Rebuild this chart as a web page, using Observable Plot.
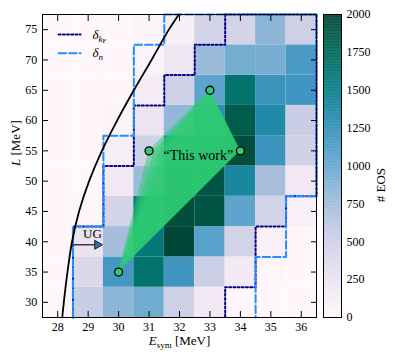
<!DOCTYPE html>
<html><head><meta charset="utf-8">
<script src="https://cdn.jsdelivr.net/npm/d3@7"></script>
<script src="https://cdn.jsdelivr.net/npm/@observablehq/plot@0.6"></script>
<style>
body{margin:0;background:#fff;}
#wrap{position:relative;width:395px;height:357px;}
#wrap svg{position:absolute;left:0;top:0;}
</style></head><body><div id="wrap"></div>
<script>
// ---------- data ----------
const esym = [28, 29, 30, 31, 32, 33, 34, 35, 36];
const lvals = [30, 35, 40, 45, 50, 55, 60, 65, 70, 75];
// number of EOS per (L row, E_sym column)
const countsL30 = [0, 540, 850, 970, 500, 170, 10, 0, 0];
const countsL35 = [0, 400, 1170, 1650, 1200, 520, 150, 20, 0];
const countsL40 = [0, 250, 740, 1600, 2000, 1080, 470, 80, 10];
const countsL45 = [0, 10, 450, 1550, 1950, 1900, 1050, 450, 80];
const countsL50 = [0, 0, 180, 780, 1900, 1900, 1400, 720, 180];
const countsL55 = [0, 0, 100, 480, 1500, 1700, 1950, 1230, 480];
const countsL60 = [0, 0, 30, 230, 820, 1300, 1850, 1350, 530];
const countsL65 = [0, 0, 0, 130, 500, 1050, 1650, 1220, 1200];
const countsL70 = [0, 0, 0, 50, 200, 780, 950, 930, 1150];
const countsL75 = [0, 0, 0, 30, 100, 450, 450, 850, 500];
const countRows = [countsL30, countsL35, countsL40, countsL45, countsL50, countsL55, countsL60, countsL65, countsL70, countsL75];

const xTicks = [28, 29, 30, 31, 32, 33, 34, 35, 36];
const yTicks = [30, 35, 40, 45, 50, 55, 60, 65, 70, 75];
const cbTicks = [0, 250, 500, 750, 1000, 1250, 1500, 1750, 2000];

// "This work" points (E_sym, L)
const twE = [30, 34, 33, 31];
const twL = [35, 55, 65, 55];
// region spanned by them: left / right edge at each L
const twRegionL = [35, 55, 65];
const twRegionLeftE = [30, 31, 33];
const twRegionRightE = [30, 34, 33];
// soft left edge: layers drawn with the left edge pulled inwards by these fractions
const twFade = [0, 0.06, 0.12, 0.18];

// unitary gas (UG) bound
const ugE = [28.15, 28.2, 28.32, 28.47, 28.7, 29.03, 29.45, 29.95, 30.5, 31.08, 31.65, 31.98];
const ugL = [27.5, 30, 35, 40, 45, 50, 55, 60, 65, 70, 75, 77.5];

// contours
const dkfLeftE = [33.5, 33.5, 32.5, 32.5, 31.5, 31.5, 30.5, 30.5, 29.5, 29.5, 28.5, 28.5];
const dkfLeftL = [77.5, 72.5, 72.5, 67.5, 67.5, 62.5, 62.5, 52.5, 52.5, 42.5, 42.5, 27.5];
const dkfRightE = [33.5, 36.5, 36.5, 35.5, 35.5, 34.5, 34.5, 33.5, 33.5];
const dkfRightL = [77.5, 77.5, 47.5, 47.5, 42.5, 42.5, 32.5, 32.5, 27.5];
const dnLeftE = [31.5, 31.5, 30.5, 30.5, 29.5, 29.5, 28.5, 28.5];
const dnLeftL = [77.5, 72.5, 72.5, 57.5, 57.5, 42.5, 42.5, 27.5];
const dnRightE = [31.5, 36.5, 36.5, 35.5, 35.5, 34.5, 34.5];
const dnRightL = [77.5, 77.5, 47.5, 47.5, 37.5, 37.5, 27.5];

// annotations
const legendLabels = ["δ_kF", "δ_n"];
const legendLineE = [28.03, 28.75];
const legendRowL = [74.2, 71.1];
const legendTextE = 29.14;
const thisWorkLabel = {E: 32.62, L: 54.2, text: "“This work”"};
const ugLabel = {E: 29.14, L: 41.3, text: "UG"};
const ugArrow = {E1: 28.5, E2: 29.3, L: 39.5};
const xLabel = "E_sym [MeV]";
const yLabel = "L [MeV]";
const cbLabel = "# EOS";

// ---------- build tables ----------
const cells = [];
lvals.forEach((L, i) => esym.forEach((E, j) => cells.push({E, L, n: countRows[i][j]})));
const tw = twE.map((E, i) => ({E, L: twL[i]}));
const twLayers = twFade.map(f => twRegionL.map((L, i) => ({
  L, a: twRegionLeftE[i] + f * (twRegionRightE[i] - twRegionLeftE[i]), b: twRegionRightE[i]
})));
const ug = ugE.map((E, i) => ({E, L: ugL[i]}));
const toPts = (es, ls) => es.map((E, i) => ({E, L: ls[i]}));
const serif = "'Liberation Serif', 'DejaVu Serif', serif";
const green = "#2ecc71";
const dotted = {stroke: "#00008b", strokeWidth: 2, strokeDasharray: "2,2.2"};
const dashed = {stroke: "#1e90ff", strokeWidth: 2, strokeDasharray: "7.5,3"};
const colorOpt = {type: "linear", scheme: "PuBuGn", domain: [0, 2000]};

const main = Plot.plot({
  width: 395, height: 357,
  marginLeft: 42, marginRight: 79, marginTop: 14, marginBottom: 40,
  x: {domain: [27.5, 36.5]},
  y: {domain: [27.5, 77.5]},
  color: colorOpt,
  style: {fontFamily: serif, fontSize: "12px", background: "transparent", color: "black"},
  marks: [
    Plot.rect(cells, {x1: d => d.E - 0.5, x2: d => d.E + 0.5, y1: d => d.L - 2.5, y2: d => d.L + 2.5, fill: "n"}),
    ...twLayers.map(layer => Plot.areaX(layer, {y: "L", x1: "a", x2: "b", fill: green, fillOpacity: 0.5})),
    Plot.line(toPts(dkfLeftE, dkfLeftL), {x: "E", y: "L", ...dotted}),
    Plot.line(toPts(dkfRightE, dkfRightL), {x: "E", y: "L", ...dotted}),
    Plot.line(toPts(dnLeftE, dnLeftL), {x: "E", y: "L", ...dashed}),
    Plot.line(toPts(dnRightE, dnRightL), {x: "E", y: "L", ...dashed}),
    Plot.frame({stroke: "black", strokeWidth: 1}),
    Plot.line(ug, {x: "E", y: "L", curve: "catmull-rom", stroke: "black", strokeWidth: 1.8}),
    Plot.link([ugArrow], {x1: "E1", x2: "E2", y1: "L", y2: "L", stroke: "#222", strokeWidth: 1.3}),
    Plot.dot([ugArrow], {x: "E2", y: "L", symbol: "triangle", rotate: 90, r: 3.3, fill: "#1f77b4", stroke: "#222", strokeWidth: 1}),
    Plot.text([ugLabel], {x: "E", y: "L", text: "text", fontSize: 13, fill: "black"}),
    Plot.dot(tw, {x: "E", y: "L", r: 4, fill: green, stroke: "black", strokeWidth: 1.3}),
    Plot.text([thisWorkLabel], {x: "E", y: "L", text: "text", fontSize: 14, fill: "black"}),
    // legend
    Plot.line(legendLineE.map(E => ({E, L: legendRowL[0]})), {x: "E", y: "L", ...dotted}),
    Plot.line(legendLineE.map(E => ({E, L: legendRowL[1]})), {x: "E", y: "L", ...dashed}),
    Plot.text(legendLabels.map((t, i) => ({t, L: legendRowL[i]})), {x: () => legendTextE, y: "L", text: "t", textAnchor: "start", fontSize: 13, fill: "black"}),
    // axes
    Plot.axisX({anchor: "bottom", ticks: xTicks, tickSize: -6, tickPadding: 11, label: null, fontSize: 12}),
    Plot.axisX({anchor: "top", ticks: xTicks, tickSize: -6, tickFormat: () => "", label: null}),
    Plot.axisY({anchor: "left", ticks: yTicks, tickSize: -6, tickPadding: 11.3, label: null, fontSize: 12}),
    Plot.axisY({anchor: "right", ticks: yTicks, tickSize: -6, tickFormat: () => "", label: null}),
    Plot.text([xLabel], {frameAnchor: "bottom", dy: 27, text: d => d, fontSize: 13, fill: "black"}),
    Plot.text([yLabel], {frameAnchor: "left", dx: -27, rotate: -90, text: d => d, fontSize: 13, fill: "black"})
  ]
});

const cbData = d3.range(0, 2000, 4);
const cb = Plot.plot({
  width: 395, height: 357,
  marginLeft: 323, marginRight: 54, marginTop: 14, marginBottom: 40,
  y: {domain: [0, 2000]},
  color: colorOpt,
  style: {fontFamily: serif, fontSize: "12px", background: "transparent", color: "black"},
  marks: [
    Plot.rect(cbData, {y1: d => d, y2: d => Math.min(2000, d + 6), fill: d => d + 2}),
    Plot.frame({stroke: "black", strokeWidth: 1}),
    Plot.axisY({anchor: "right", ticks: cbTicks, tickSize: 0, tickPadding: 5, tickFormat: d => String(d), label: null, fontSize: 12}),
    Plot.text([cbLabel], {frameAnchor: "right", dx: 39, dy: 2, rotate: -90, text: d => d, fontSize: 13, fill: "black"})
  ]
});

const wrap = document.getElementById("wrap");
wrap.appendChild(main);
wrap.appendChild(cb);

// rich text (italic / subscripts)
function rich(svg, key, parts) {
  d3.select(svg).selectAll("text").filter(function () { return this.textContent === key; }).each(function () {
    const t = d3.select(this); t.text(null);
    parts.forEach(p => {
      const s = t.append("tspan").text(p.t);
      if (p.i) s.attr("font-style", "italic");
      if (p.fs) s.attr("font-size", p.fs);
      if (p.dy) s.attr("dy", p.dy);
    });
  });
}
rich(main, xLabel, [{t: "E", i: 1}, {t: "sym", fs: 9, dy: 3}, {t: " [MeV]", dy: -3}]);
rich(main, yLabel, [{t: "L", i: 1}, {t: " [MeV]"}]);
rich(main, "δ_kF", [{t: "δ", i: 1}, {t: "k", i: 1, fs: 9, dy: 3}, {t: "F", fs: 6.5, dy: 1.5}]);
rich(main, "δ_n", [{t: "δ", i: 1}, {t: "n", i: 1, fs: 9, dy: 3}]);
</script>
</body></html>
